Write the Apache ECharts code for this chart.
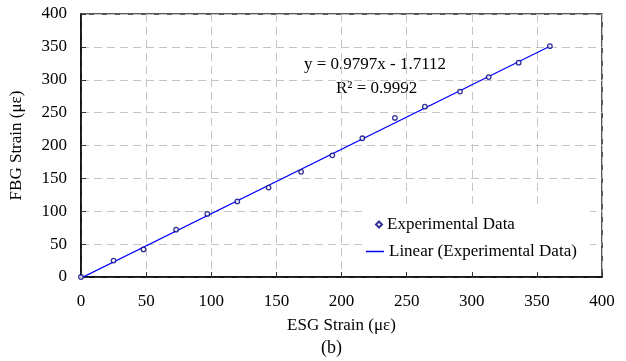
<!DOCTYPE html>
<html>
<head>
<meta charset="utf-8">
<script src="https://cdn.jsdelivr.net/npm/echarts@6/dist/echarts.min.js"></script>
<style>
  html, body { margin: 0; padding: 0; background: #fff; }
  #chart { width: 626px; height: 361px; }
</style>
</head>
<body>
<div id="chart"></div>
<script>
const esgStrain = [0, 25, 48, 73, 97, 120, 144, 169, 193, 216, 241, 264, 291, 313, 336, 360]
const fbgStrain = [0, 25, 42, 72, 96, 115, 136, 160, 185, 211, 242, 259, 282, 304, 326, 351]
const fitX = [0, 360]
const fitY = [-1.7, 351]
const equationText = 'y = 0.9797x - 1.7112'
const r2Text = 'R² = 0.9992'

const font = 'Liberation Serif'
const chart = echarts.init(document.getElementById('chart'))

const axisCommon = {
  type: 'value',
  min: 0,
  max: 400,
  interval: 50,
  nameLocation: 'middle',
  nameTextStyle: { fontFamily: font, fontSize: 17, color: '#000' },
  axisLine: { show: true, lineStyle: { color: '#000', width: 1.5 } },
  axisTick: { show: true, inside: true, length: 5, lineStyle: { color: '#333' } },
  axisLabel: { fontFamily: font, fontSize: 17, color: '#000' },
  splitLine: { show: true, lineStyle: { color: '#c4c4c4', type: [8, 5], width: 1 } }
}

const legendText = { fontFamily: font, fontSize: 17, color: '#000' }

chart.setOption({
  animation: false,
  grid: {
    left: 81, top: 14, right: 24, bottom: 84,
    show: true, borderColor: '#222', borderWidth: 1.5
  },
  xAxis: Object.assign({}, axisCommon, {
    name: 'ESG Strain (με)',
    nameGap: 40,
    axisLabel: Object.assign({}, axisCommon.axisLabel, { margin: 16 })
  }),
  yAxis: Object.assign({}, axisCommon, {
    name: 'FBG Strain (με)',
    nameGap: 56,
    axisLabel: Object.assign({}, axisCommon.axisLabel, { margin: 14 })
  }),
  legend: [
    {
      left: 375, top: 216, padding: 0,
      itemWidth: 6, itemHeight: 6,
      textStyle: legendText,
      data: [{ name: 'Experimental Data', icon: 'diamond' }]
    },
    {
      left: 366, top: 243, padding: 0,
      itemWidth: 18, itemHeight: 1.5,
      textStyle: legendText,
      data: [{ name: 'Linear (Experimental Data)', icon: 'rect' }]
    }
  ],
  graphic: [
    {
      type: 'rect', z: 3,
      shape: { x: 364, y: 207, width: 226, height: 62 },
      style: { fill: '#fff' }
    },
    {
      type: 'text', left: 304, top: 56,
      style: { text: equationText, fontFamily: font, fontSize: 17, fill: '#000' }
    },
    {
      type: 'text', left: 336, top: 80,
      style: { text: r2Text, fontFamily: font, fontSize: 17, fill: '#000' }
    },
    {
      type: 'text', left: 321, top: 339,
      style: { text: '(b)', fontFamily: font, fontSize: 18, fill: '#000' }
    }
  ],
  series: [
    {
      name: 'Linear (Experimental Data)',
      type: 'line',
      data: fitX.map((x, i) => [x, fitY[i]]),
      showSymbol: false,
      symbol: 'none',
      lineStyle: { color: '#0000ff', width: 1.2 },
      itemStyle: { color: '#0000ff' },
      z: 4
    },
    {
      name: 'Experimental Data',
      type: 'scatter',
      data: esgStrain.map((x, i) => [x, fbgStrain[i]]),
      symbol: 'circle',
      symbolSize: 4.5,
      itemStyle: { color: '#fff', borderColor: '#000080', borderWidth: 1.3 },
      z: 5
    }
  ]
})
</script>
</body>
</html>
